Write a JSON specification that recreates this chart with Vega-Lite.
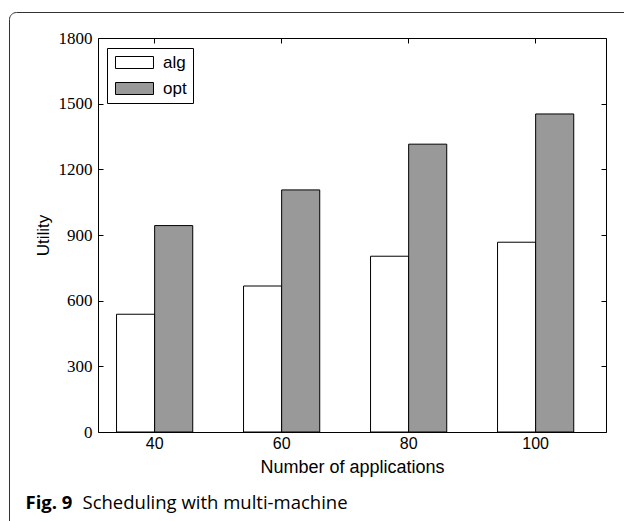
{
  "$schema": "https://vega.github.io/schema/vega-lite/v6.json",
  "width": 508,
  "height": 394,
  "autosize": {"type": "none"},
  "padding": {"left": 98, "top": 38, "right": 18, "bottom": 89},
  "background": "white",
  "data": {
    "values": [
      {"app": 40, "series": "alg", "utility": 538},
      {"app": 40, "series": "opt", "utility": 943},
      {"app": 60, "series": "alg", "utility": 667},
      {"app": 60, "series": "opt", "utility": 1106},
      {"app": 80, "series": "alg", "utility": 803},
      {"app": 80, "series": "opt", "utility": 1315},
      {"app": 100, "series": "alg", "utility": 867},
      {"app": 100, "series": "opt", "utility": 1453}
    ]
  },
  "layer": [
    {
      "mark": {"type": "bar", "stroke": "black", "strokeWidth": 1},
      "encoding": {
        "x": {
          "field": "app",
          "type": "ordinal",
          "scale": {"type": "band", "paddingInner": 0.4, "paddingOuter": 0.2, "align": 0.365},
          "axis": {
            "orient": "bottom",
            "title": "Number of applications",
            "labelAngle": 0,
            "labelFont": "Liberation Sans",
            "labelFontSize": 16,
            "labelColor": "black",
            "labelPadding": 8,
            "tickSize": -5,
            "tickColor": "black",
            "domain": false,
            "grid": false,
            "titleFont": "Liberation Sans",
            "titleFontSize": 18,
            "titleFontWeight": "normal",
            "titleColor": "black",
            "titleBaseline": "alphabetic",
            "titleY": 40
          }
        },
        "xOffset": {
          "field": "series",
          "type": "nominal",
          "sort": ["alg", "opt"],
          "scale": {"paddingInner": 0, "paddingOuter": 0}
        },
        "y": {
          "field": "utility",
          "type": "quantitative",
          "stack": null,
          "scale": {"domain": [0, 1800], "nice": false, "zero": true},
          "axis": {
            "orient": "left",
            "values": [0, 300, 600, 900, 1200, 1500, 1800],
            "format": "d",
            "title": "Utility",
            "labelFont": "Liberation Serif",
            "labelFontSize": 17,
            "labelColor": "black",
            "labelPadding": 11,
            "tickSize": -5,
            "tickColor": "black",
            "domain": false,
            "grid": false,
            "titleFont": "Liberation Sans",
            "titleFontSize": 17,
            "titleFontWeight": "normal",
            "titleColor": "black",
            "titleAngle": -90,
            "titleBaseline": "middle",
            "titleAlign": "center",
            "titleX": -55
          }
        },
        "fill": {
          "field": "series",
          "type": "nominal",
          "scale": {"domain": ["alg", "opt"], "range": ["white", "#999999"]},
          "legend": {
            "orient": "none",
            "legendX": 9,
            "legendY": 10,
            "title": null,
            "strokeColor": "black",
            "fillColor": "white",
            "padding": 6,
            "rowPadding": 8,
            "symbolType": "M-1,-1H5.333V1H-1Z",
            "symbolSize": 144,
            "symbolStrokeColor": "black",
            "symbolStrokeWidth": 1,
            "labelFont": "Liberation Sans",
            "labelFontSize": 17,
            "labelColor": "black",
            "labelOffset": 33
          }
        }
      }
    },
    {
      "mark": {"type": "bar", "fillOpacity": 0, "strokeOpacity": 0},
      "encoding": {
        "x": {
          "field": "app",
          "type": "ordinal",
          "axis": {
            "orient": "top",
            "labels": false,
            "tickSize": -5,
            "tickColor": "black",
            "domain": false,
            "grid": false,
            "title": "Scheduling with multi-machine",
            "titleFont": "Open Sans",
            "titleFontSize": 18.5,
            "titleFontWeight": "normal",
            "titleColor": "black",
            "titleAlign": "left",
            "titleAnchor": "start",
            "titleBaseline": "alphabetic",
            "titleX": -16,
            "titleY": 470
          }
        },
        "y": {
          "field": "utility",
          "type": "quantitative",
          "stack": null,
          "scale": {"domain": [0, 1800], "nice": false, "zero": true},
          "axis": {
            "orient": "right",
            "values": [0, 300, 600, 900, 1200, 1500, 1800],
            "labels": false,
            "tickSize": -5,
            "tickColor": "black",
            "domain": false,
            "grid": false,
            "title": "Fig. 9",
            "titleFont": "Open Sans",
            "titleFontSize": 18.5,
            "titleFontWeight": "bold",
            "titleColor": "black",
            "titleAngle": 0,
            "titleAlign": "left",
            "titleAnchor": "start",
            "titleBaseline": "alphabetic",
            "titleX": -581,
            "titleY": 470
          }
        },
        "opacity": {
          "field": "app",
          "type": "ordinal",
          "scale": {"range": [0, 0]},
          "legend": {
            "orient": "none",
            "legendX": -89,
            "legendY": -26,
            "title": null,
            "padding": 400,
            "strokeColor": "#333333",
            "cornerRadius": 7,
            "symbolOpacity": 0,
            "labelOpacity": 0
          }
        }
      }
    }
  ],
  "resolve": {"axis": {"x": "independent", "y": "independent"}},
  "config": {
    "view": {"stroke": "black", "strokeWidth": 1}
  }
}
